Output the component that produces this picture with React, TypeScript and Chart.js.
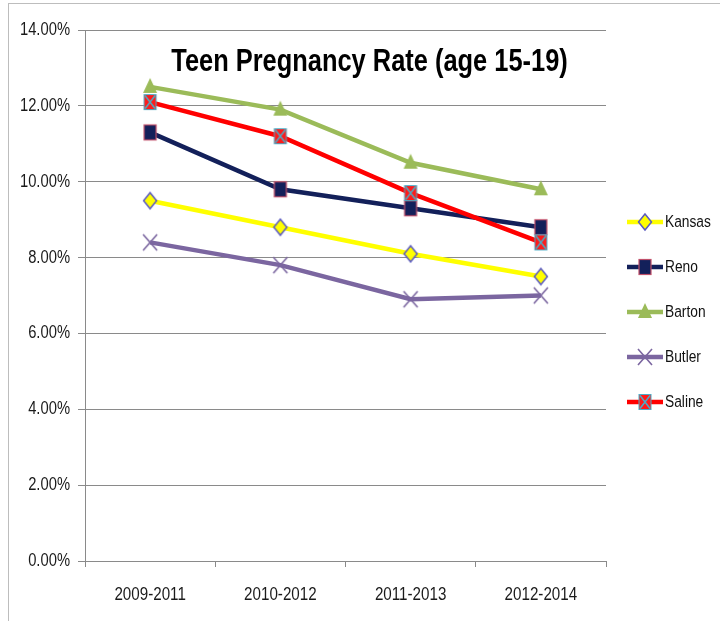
import React, { useEffect, useRef } from "react";
import { Chart, registerables } from "chart.js";

Chart.register(...registerables);

const categories = ["2009-2011", "2010-2012", "2011-2013", "2012-2014"];
const kansas = [9.5, 8.8, 8.1, 7.5];
const reno = [11.3, 9.8, 9.3, 8.8];
const barton = [12.5, 11.9, 10.5, 9.8];
const butler = [8.4, 7.8, 6.9, 7.0];
const saline = [12.1, 11.2, 9.7, 8.4];
const seriesNames = ["Kansas", "Reno", "Barton", "Butler", "Saline"];
const yTicks = [0, 2, 4, 6, 8, 10, 12, 14];
const chartTitle = "Teen Pregnancy Rate (age 15-19)";

const FONT = "'Liberation Sans', Arial, sans-serif";
const NARROW = 0.82;
const GRID = "#8a8a8a";

type Kind = "diamond" | "square" | "triangle" | "cross" | "xsquare";

function drawMarker(ctx: CanvasRenderingContext2D, kind: Kind, cx: number, cy: number) {
  ctx.save();
  if (kind === "diamond") {
    ctx.beginPath();
    ctx.moveTo(cx, cy - 8);
    ctx.lineTo(cx + 6.5, cy);
    ctx.lineTo(cx, cy + 8);
    ctx.lineTo(cx - 6.5, cy);
    ctx.closePath();
    ctx.fillStyle = "#FFFF00";
    ctx.fill();
    ctx.strokeStyle = "#5b5bc0";
    ctx.lineWidth = 1.5;
    ctx.stroke();
  } else if (kind === "square") {
    ctx.fillStyle = "#13205a";
    ctx.fillRect(cx - 6, cy - 7.5, 12, 15);
    ctx.strokeStyle = "#c0506a";
    ctx.lineWidth = 1.2;
    ctx.strokeRect(cx - 6, cy - 7.5, 12, 15);
  } else if (kind === "triangle") {
    ctx.beginPath();
    ctx.moveTo(cx, cy - 9);
    ctx.lineTo(cx + 7, cy + 6);
    ctx.lineTo(cx - 7, cy + 6);
    ctx.closePath();
    ctx.fillStyle = "#9BBB59";
    ctx.fill();
  } else if (kind === "cross") {
    ctx.beginPath();
    ctx.moveTo(cx - 7, cy - 8);
    ctx.lineTo(cx + 7, cy + 8);
    ctx.moveTo(cx + 7, cy - 8);
    ctx.lineTo(cx - 7, cy + 8);
    ctx.strokeStyle = "#7b66a0";
    ctx.lineWidth = 1.6;
    ctx.stroke();
  } else {
    ctx.fillStyle = "#ff1a1a";
    ctx.fillRect(cx - 6, cy - 7.5, 12, 15);
    ctx.strokeStyle = "#4bacc6";
    ctx.lineWidth = 1.5;
    ctx.beginPath();
    ctx.moveTo(cx - 5, cy - 6.5);
    ctx.lineTo(cx + 5, cy + 6.5);
    ctx.moveTo(cx + 5, cy - 6.5);
    ctx.lineTo(cx - 5, cy + 6.5);
    ctx.stroke();
    ctx.lineWidth = 1;
    ctx.strokeRect(cx - 6, cy - 7.5, 12, 15);
  }
  ctx.restore();
}

function markerCanvas(kind: Kind): HTMLCanvasElement {
  const c = document.createElement("canvas");
  c.width = 18;
  c.height = 20;
  const ctx = c.getContext("2d")!;
  drawMarker(ctx, kind, 9, 10);
  return c;
}

function legendCanvas(kind: Kind, color: string): HTMLCanvasElement {
  const c = document.createElement("canvas");
  c.width = 36;
  c.height = 20;
  const ctx = c.getContext("2d")!;
  ctx.strokeStyle = color;
  ctx.lineWidth = 4.5;
  ctx.beginPath();
  ctx.moveTo(0, 10);
  ctx.lineTo(36, 10);
  ctx.stroke();
  drawMarker(ctx, kind, 18, 10);
  return c;
}

function narrowText(
  ctx: CanvasRenderingContext2D,
  text: string,
  x: number,
  y: number,
  font: string,
  align: CanvasTextAlign
) {
  ctx.save();
  ctx.font = font;
  ctx.textAlign = align;
  ctx.textBaseline = "middle";
  ctx.translate(x, y);
  ctx.scale(NARROW, 1);
  ctx.fillText(text, 0, 0);
  ctx.restore();
}

const textPlugin = {
  id: "narrowTexts",
  afterDraw(chart: any) {
    const { ctx, chartArea } = chart;
    const icons: HTMLCanvasElement[] = chart.options.plugins.narrowTexts.icons;
    ctx.save();
    ctx.fillStyle = "#1a1a1a";
    const ys = chart.scales.y;
    ys.ticks.forEach((t: any) => {
      const y = ys.getPixelForValue(t.value);
      narrowText(ctx, Number(t.value).toFixed(2) + "%", chartArea.left - 15, y, `18px ${FONT}`, "right");
    });
    const xs = chart.scales.x;
    categories.forEach((c, i) => {
      const x = xs.getPixelForValue(i);
      narrowText(ctx, c, x, chartArea.bottom + 34, `18.5px ${FONT}`, "center");
    });
    ctx.fillStyle = "#000";
    narrowText(
      ctx,
      chartTitle,
      (chartArea.left + chartArea.right) / 2 + 24,
      chartArea.top + 32,
      `bold 31px ${FONT}`,
      "center"
    );
    ctx.fillStyle = "#111";
    chart.data.datasets.forEach((ds: any, i: number) => {
      const y = chartArea.top + 192 + i * 45;
      const x = chartArea.right + 21;
      const icon = icons[i];
      ctx.drawImage(icon, x, y - icon.height / 2);
      narrowText(ctx, ds.label, x + icon.width + 2, y, `16.8px ${FONT}`, "left");
    });
    ctx.restore();
  },
};

export default function App() {
  const ref = useRef<HTMLCanvasElement | null>(null);

  useEffect(() => {
    if (!ref.current) return;
    const kinds: Kind[] = ["diamond", "square", "triangle", "cross", "xsquare"];
    const colors = ["#FFFF00", "#13205a", "#9BBB59", "#7b66a0", "#FF0000"];
    const values = [kansas, reno, barton, butler, saline];
    const datasets = seriesNames.map((name, i) => ({
      label: name,
      data: values[i],
      borderColor: colors[i],
      backgroundColor: colors[i],
      borderWidth: 4.5,
      pointStyle: markerCanvas(kinds[i]),
      pointRadius: 7,
      tension: 0,
      order: seriesNames.length - i,
    }));
    const icons = kinds.map((k, i) => legendCanvas(k, colors[i]));

    const chart = new Chart(ref.current, {
      type: "line",
      data: { labels: categories, datasets },
      plugins: [textPlugin],
      options: {
        animation: false,
        responsive: false,
        devicePixelRatio: 1,
        layout: { padding: { left: 8, top: 30, right: 114, bottom: 0 } },
        plugins: {
          legend: { display: false },
          title: { display: false },
          tooltip: { enabled: false },
          narrowTexts: { icons },
        } as any,
        scales: {
          x: {
            offset: true,
            grid: {
              offset: true,
              drawOnChartArea: false,
              color: GRID,
              tickLength: 6,
            },
            border: { display: true, color: GRID },
            ticks: { display: false },
            afterFit: (s: any) => {
              s.height = 60;
            },
          },
          y: {
            min: 0,
            max: 14,
            grid: { color: GRID, tickLength: 7 },
            border: { display: true, color: GRID },
            afterBuildTicks: (s: any) => {
              s.ticks = yTicks.map((v) => ({ value: v }));
            },
            ticks: { display: false },
            afterFit: (s: any) => {
              s.width = 77;
            },
          },
        },
      },
    });
    return () => chart.destroy();
  }, []);

  return (
    <div style={{ position: "absolute", left: 0, top: 0, width: 720, height: 621, background: "#fff" }}>
      <div
        style={{
          position: "absolute",
          left: 8,
          top: 3,
          width: 712,
          height: 618,
          borderTop: "1px solid #bdbdbd",
          borderLeft: "1px solid #bdbdbd",
          boxSizing: "border-box",
        }}
      />
      <canvas ref={ref} width={720} height={621} style={{ position: "absolute", left: 0, top: 0, width: 720, height: 621 }} />
    </div>
  );
}
